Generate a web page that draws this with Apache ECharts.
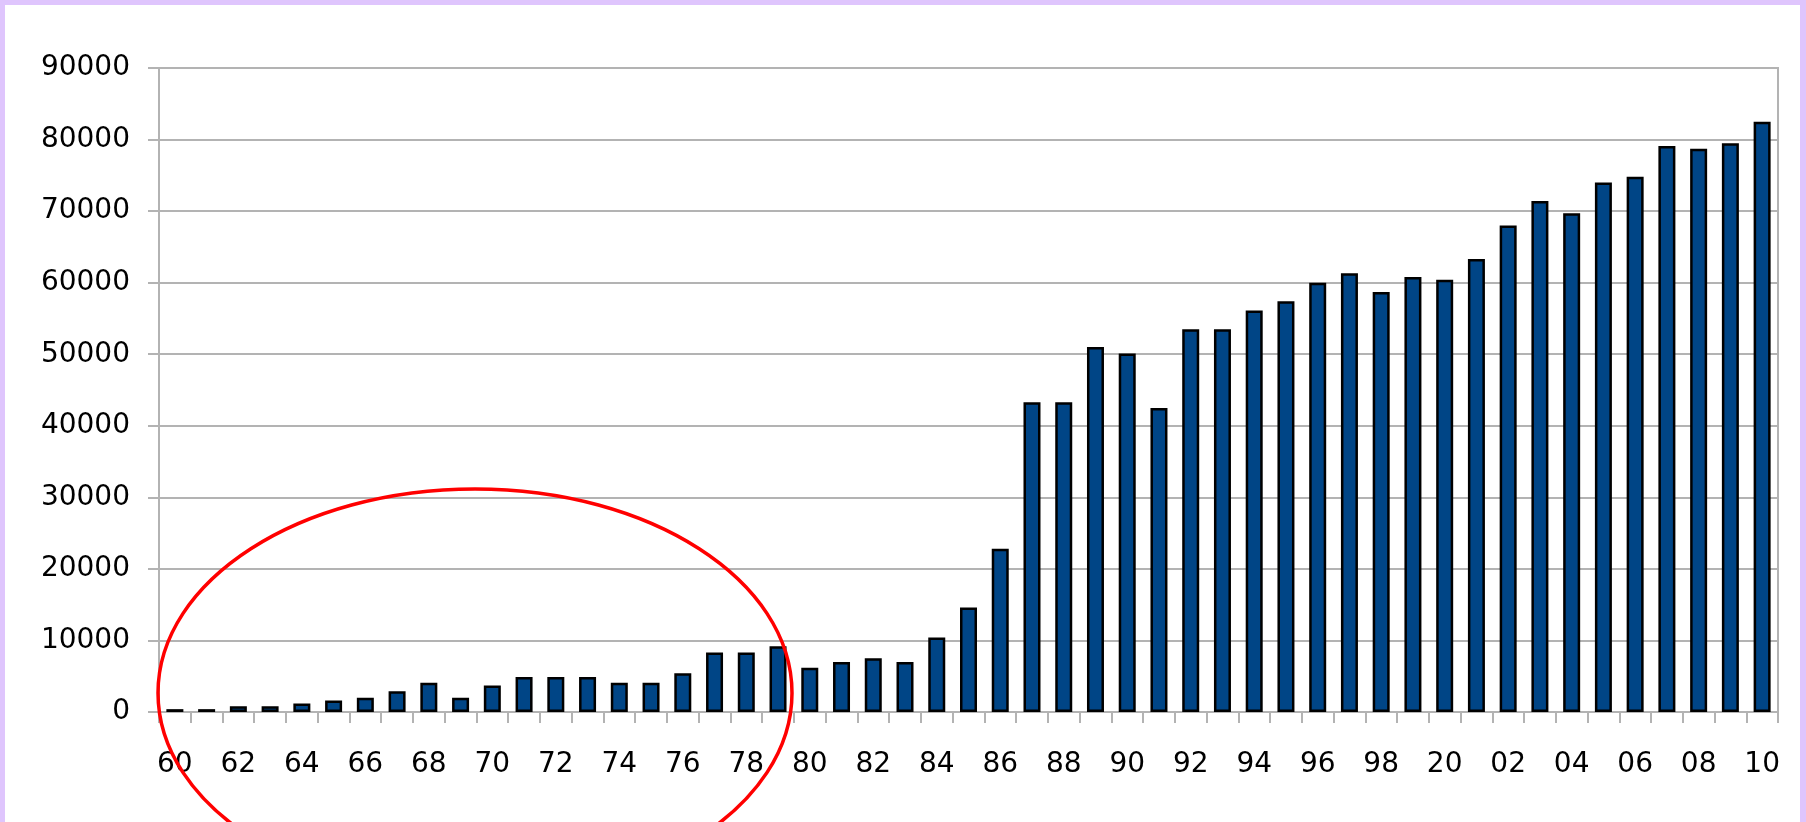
<!DOCTYPE html>
<html>
<head>
<meta charset="utf-8">
<script src="https://cdn.jsdelivr.net/npm/echarts@6/dist/echarts.min.js"></script>
<style>
  html, body { margin: 0; padding: 0; background: #ffffff; }
  #wrap { position: relative; width: 1806px; height: 822px; overflow: hidden; }
  #chart { position: absolute; left: 0; top: 0; width: 1806px; height: 822px; }
  #frame {
    position: absolute; left: 0; top: 0; width: 1806px; height: 822px;
    box-sizing: border-box; pointer-events: none;
    border-top: 5px solid #dfc5fd; border-left: 5px solid #dfc5fd; border-right: 6px solid #dfc5fd;
  }
</style>
</head>
<body>
<div id="wrap">
  <div id="chart"></div>
  <div id="frame"></div>
</div>
<script>
// Years 1960-2010, two-digit labels as printed on the axis
const years = [
  '60','61','62','63','64','65','66','67','68','69',
  '70','71','72','73','74','75','76','77','78','79',
  '80','81','82','83','84','85','86','87','88','89',
  '90','91','92','93','94','95','96','97','98','99',
  '20','01','02','03','04','05','06','07','08','09','10'
];

// Annual totals per year
const totals = [
  400, 400, 800, 800, 1200, 1600, 2000, 2900, 4100, 2000,
  3700, 4900, 4900, 4900, 4100, 4100, 5400, 8300, 8300, 9200,
  6200, 7000, 7500, 7000, 10400, 14600, 22800, 43300, 43300, 51000,
  50100, 42500, 53500, 53500, 56100, 57400, 60000, 61300, 58700, 60800,
  60400, 63300, 68000, 71400, 69700, 74000, 74800, 79100, 78700, 79500, 82500
];

// Value axis range
const yMin = 0;
const yMax = 90000;
const yStep = 10000;

const gridGrey = '#b3b3b3';
const labelFont = { color: '#000000', fontSize: 28, fontFamily: '"DejaVu Sans", sans-serif' };

const chart = echarts.init(document.getElementById('chart'), null, { renderer: 'canvas' });

chart.setOption({
  animation: false,
  backgroundColor: '#ffffff',
  grid: {
    left: 159, right: 28, top: 68, bottom: 110,
    show: true, borderColor: gridGrey, borderWidth: 2, backgroundColor: 'transparent'
  },
  xAxis: {
    type: 'category',
    data: years,
    boundaryGap: true,
    axisLine: { show: true, lineStyle: { color: gridGrey, width: 2 } },
    axisTick: { show: true, interval: 0, length: 11, lineStyle: { color: gridGrey, width: 2 } },
    axisLabel: Object.assign({ interval: 1, margin: 39 }, labelFont),
    splitLine: { show: false }
  },
  yAxis: {
    type: 'value',
    min: yMin, max: yMax, interval: yStep,
    axisLine: { show: true, lineStyle: { color: gridGrey, width: 2 } },
    axisTick: { show: true, length: 11, lineStyle: { color: gridGrey, width: 2 } },
    axisLabel: Object.assign({ margin: 29, formatter: (v) => String(v) }, labelFont),
    splitLine: { show: true, lineStyle: { color: gridGrey, width: 2 } }
  },
  series: [{
    type: 'bar',
    data: totals,
    barWidth: 17,
    itemStyle: { color: '#004586', borderColor: '#000000', borderWidth: 2.5 }
  }],
  graphic: [{
    // red ring highlighting the early years
    type: 'ellipse',
    z: 100,
    shape: { cx: 475, cy: 693, rx: 317, ry: 204 },
    style: { fill: 'none', stroke: '#ff0000', lineWidth: 3.5 }
  }]
});
</script>
</body>
</html>
